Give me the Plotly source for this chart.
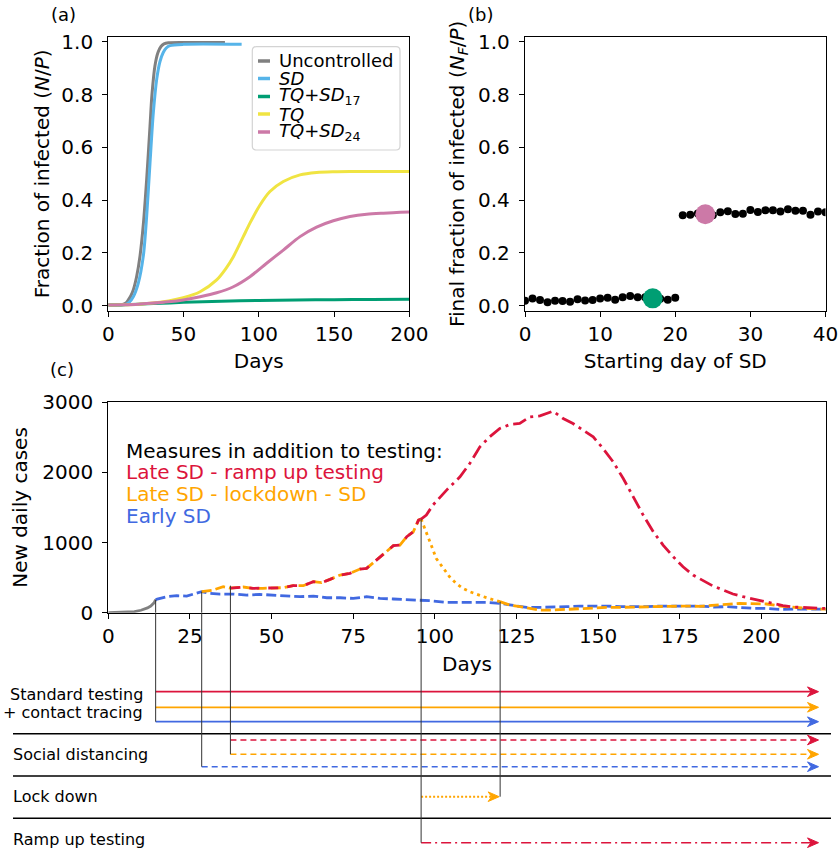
import plotly.graph_objects as go

W, H = 840, 851
FONT = "DejaVu Sans"


def px_x(p):
    return p / W


def px_y(p):
    return 1 - p / H


# ---------------- DATA ----------------
# Panel (a): cumulative fraction of infected N/P
unc_days = [0, 5, 9, 12, 13.3, 15, 16.6, 18.8, 21.1, 23.3, 25.5, 27.7, 29, 31, 33, 35, 37, 40, 50, 77.5]
unc_vals = [0.003, 0.003, 0.004, 0.012, 0.022, 0.038, 0.060, 0.110, 0.19, 0.31, 0.48, 0.68, 0.80, 0.91, 0.96, 0.983, 0.993, 0.997, 0.998, 0.998]

sd_days = [0, 8, 11.1, 14, 16.6, 19.9, 23.3, 25.5, 27.7, 29.9, 32.2, 34.3, 36.5, 38.5, 41, 50, 88.6]
sd_vals = [0.003, 0.003, 0.004, 0.014, 0.034, 0.085, 0.19, 0.34, 0.54, 0.73, 0.86, 0.925, 0.96, 0.977, 0.986, 0.991, 0.991]

tqsd17_days = [0, 10, 20, 30, 50, 75, 100, 125, 150, 175, 200]
tqsd17_vals = [0.003, 0.004, 0.006, 0.008, 0.013, 0.017, 0.020, 0.022, 0.023, 0.024, 0.025]

tq_days = [0, 10, 20, 27.7, 40, 49.8, 61, 72, 78, 83.1, 89.7, 94.1, 100.8, 107.4, 116.3, 127.4, 138.4, 150, 160.6, 200]
tq_vals = [0.003, 0.004, 0.006, 0.009, 0.018, 0.030, 0.053, 0.098, 0.14, 0.186, 0.262, 0.313, 0.382, 0.433, 0.471, 0.496, 0.505, 0.508, 0.509, 0.509]

tqsd24_days = [0, 10, 20, 27.7, 40, 49.8, 61, 72, 83.1, 94.1, 105.2, 116.3, 127.4, 138.4, 149.5, 160.6, 171.7, 182.8, 200]
tqsd24_vals = [0.003, 0.004, 0.006, 0.009, 0.015, 0.022, 0.034, 0.049, 0.072, 0.110, 0.161, 0.211, 0.262, 0.298, 0.322, 0.338, 0.347, 0.351, 0.355]

legend_labels = ["Uncontrolled", "<i>SD</i>", "<i>TQ</i>+<i>SD</i><sub>17</sub>", "<i>TQ</i>", "<i>TQ</i>+<i>SD</i><sub>24</sub>"]
a_colors = ["#808080", "#56B4E9", "#009E73", "#F0E442", "#CC79A7"]

# Panel (b): final fraction vs starting day of SD
b_days = list(range(41))
b_vals = [0.019, 0.027, 0.022, 0.013, 0.019, 0.018, 0.015, 0.025, 0.020, 0.022, 0.027,
          0.030, 0.023, 0.032, 0.037, 0.032, 0.032, 0.028, 0.026, 0.023, 0.030,
          0.343, 0.345, 0.350, 0.347, 0.343, 0.354, 0.358, 0.348, 0.349, 0.363,
          0.355, 0.362, 0.362, 0.357, 0.366, 0.360, 0.360, 0.345, 0.357, 0.354]
b_highlight_days = [17, 24]
b_highlight_colors = ["#009E73", "#CC79A7"]

# Panel (c): new daily cases
c_gray_days = [0, 3, 6, 8, 10, 11, 12, 13, 14, 14.5]
c_gray_vals = [0, 3, 8, 15, 35, 50, 68, 95, 140, 185]

early_days = [14.5, 15, 17.9, 21, 24, 26, 28, 28.6, 31.1, 34.2, 38.3, 42.4, 46.4, 50.5,
              54.6, 58.7, 62.8, 66.9, 71, 75, 79.1, 83.2, 87.3, 91.4, 95.5, 98.5,
              103.6, 107.7, 111.7, 115.8, 119.9, 124, 128.1, 132.2, 136.2, 140.3,
              144.4, 148.5, 152.6, 156.7, 160.7, 164.8, 168.9, 173, 177.1, 181.2,
              185.3, 189.3, 193.4, 197.5, 201.6, 205.7, 209.8, 213.8, 217.9, 220]
early_vals = [185, 195, 228, 242, 237, 261, 290, 300, 275, 266, 266, 251, 261, 251,
              237, 228, 237, 213, 213, 204, 228, 204, 195, 185, 180, 171,
              147, 147, 147, 147, 133, 100, 76, 76, 76, 86,
              95, 100, 95, 86, 81, 86, 95, 100, 95, 95,
              81, 86, 71, 62, 62, 48, 52, 48, 52, 50]

late_days = [28.6, 29.6, 32.1, 35.2, 37.4, 41.3, 44.3, 47.3, 50.5, 53.6, 56.6, 59.7, 62.8,
             65.3, 67.9, 71, 74, 77.1, 79.1, 82.2, 85.2, 87.3, 89.3, 91.4, 93.4, 95, 95.8]
late_vals = [300, 309, 323, 371, 350, 366, 347, 347, 357, 357, 385, 385, 442,
             428, 475, 537, 561, 623, 632, 751, 869, 955, 964, 1083, 1154, 1320, 1335]

ramp_days = [95.8, 97.4, 99.4, 103.6, 107.7, 110.7, 113.8, 116.8, 119.9, 123,
             126, 129.1, 132.2, 135.2, 136.2, 139.3, 142.3, 145.4, 148.5, 151.5,
             154.6, 157.7, 160.7, 163.8, 166.9, 169.9, 173, 176, 179.1, 182.2,
             185.2, 188.3, 191.3, 194.4, 197.4, 200.5, 203.6, 206.6, 209.7, 212.8,
             215.8, 218.9, 220]
ramp_vals = [1335, 1392, 1534, 1748, 1937, 2128, 2365, 2507, 2627, 2684,
             2698, 2792, 2806, 2855, 2873, 2769, 2698, 2602, 2507, 2342,
             2151, 1914, 1652, 1392, 1154, 964, 798, 655, 537, 452,
             380, 323, 266, 228, 195, 171, 133, 100, 81, 71,
             62, 62, 60]

lock_days = [95.8, 97.4, 98.9, 100.4, 102.5, 104.5, 106.5, 108.6, 110.7, 112.7, 115.8, 119.9]
lock_vals = [1335, 1154, 964, 775, 632, 513, 419, 347, 299, 262, 214, 157]

post_days = [119.9, 123, 126, 129.1, 132.2, 136.2, 140.3, 144.4, 148.5, 152.6,
             156.7, 160.7, 164.8, 168.9, 173, 177.1, 181.2, 185.3, 189.3, 193.4,
             197.5, 201.6, 205.7, 209.8, 213.8, 217.9, 220]
post_vals = [157, 109, 86, 62, 38, 38, 48, 62, 76, 76,
             76, 81, 81, 86, 90, 95, 90, 100, 119, 133,
             124, 124, 95, 76, 62, 52, 50]

# event days (start of measures) and the curve value where each is marked
ev_days = [14.5, 28.6, 37.4, 95.8, 120.0]
ev_vals = [185, 300, 385, 1335, 157]
end_day = 217.5

RED, ORANGE, BLUE = "#DC143C", "#FFA500", "#4169E1"
c_text = ["Measures in addition to testing:", "Late SD - ramp up testing", "Late SD - lockdown - SD", "Early SD"]
c_text_colors = ["black", RED, ORANGE, BLUE]

timeline_labels = ["Standard testing", "+ contact tracing", "Social distancing", "Lock down", "Ramp up testing"]

# ---------------- FIGURE ----------------
fig = go.Figure()

a_series = [(unc_days, unc_vals), (sd_days, sd_vals), (tqsd17_days, tqsd17_vals),
            (tq_days, tq_vals), (tqsd24_days, tqsd24_vals)]
for (dx, dy), col, lab in zip(a_series, a_colors, legend_labels):
    fig.add_trace(go.Scatter(x=dx, y=dy, mode="lines", line=dict(color=col, width=3, shape="spline", smoothing=0.8),
                             name=lab, xaxis="x", yaxis="y", showlegend=False))

fig.add_trace(go.Scatter(x=b_days, y=b_vals, mode="markers", marker=dict(color="black", size=8),
                         xaxis="x2", yaxis="y2", showlegend=False))
fig.add_trace(go.Scatter(x=b_highlight_days, y=[b_vals[d] for d in b_highlight_days], mode="markers",
                         marker=dict(color=b_highlight_colors, size=20),
                         xaxis="x2", yaxis="y2", showlegend=False))

DASH = "10px,4px"
fig.add_trace(go.Scatter(x=c_gray_days, y=c_gray_vals, mode="lines", line=dict(color="#808080", width=2.8),
                         xaxis="x3", yaxis="y3", showlegend=False))
fig.add_trace(go.Scatter(x=early_days, y=early_vals, mode="lines", line=dict(color=BLUE, width=2.8, dash=DASH),
                         xaxis="x3", yaxis="y3", showlegend=False))
fig.add_trace(go.Scatter(x=late_days, y=late_vals, mode="lines", line=dict(color=ORANGE, width=2.8, dash=DASH),
                         xaxis="x3", yaxis="y3", showlegend=False))
fig.add_trace(go.Scatter(x=late_days[4:], y=late_vals[4:], mode="lines", line=dict(color=RED, width=2.8, dash="10px,9px"),
                         xaxis="x3", yaxis="y3", showlegend=False))
fig.add_trace(go.Scatter(x=lock_days, y=lock_vals, mode="lines", line=dict(color=ORANGE, width=2.8, dash="3px,4px"),
                         xaxis="x3", yaxis="y3", showlegend=False))
fig.add_trace(go.Scatter(x=post_days, y=post_vals, mode="lines", line=dict(color=ORANGE, width=2.8, dash=DASH),
                         xaxis="x3", yaxis="y3", showlegend=False))
fig.add_trace(go.Scatter(x=ramp_days, y=ramp_vals, mode="lines", line=dict(color=RED, width=2.8, dash="14px,5px,3px,5px"),
                         xaxis="x3", yaxis="y3", showlegend=False))

# ---------------- AXES ----------------
tickfont = dict(family=FONT, size=20, color="black")
titlefont = dict(family=FONT, size=20, color="black")
common = dict(showline=True, mirror=True, linecolor="black", linewidth=1.3, ticks="outside",
              ticklen=5, tickwidth=1.3, tickcolor="black", showgrid=False, zeroline=False,
              tickfont=tickfont, automargin=False)

ab_ydom = [px_y(311), px_y(36.7)]
fig.update_layout(
    xaxis=dict(domain=[px_x(108.3), px_x(409.3)], range=[0, 200], tickvals=[0, 50, 100, 150, 200],
               anchor="y", ticklabelstandoff=0, title=dict(text="Days", font=titlefont, standoff=8), **common),
    yaxis=dict(domain=ab_ydom, range=[-0.02, 1.02], tickvals=[0, 0.2, 0.4, 0.6, 0.8, 1.0], tickformat=".1f",
               anchor="x", ticklabelstandoff=5,
               title=dict(text="Fraction of infected (<i>N</i>/<i>P</i>)", font=titlefont, standoff=6), **common),
    xaxis2=dict(domain=[px_x(525), px_x(825.5)], range=[0, 40], tickvals=[0, 10, 20, 30, 40],
                anchor="y2", ticklabelstandoff=0, title=dict(text="Starting day of SD", font=titlefont, standoff=8), **common),
    yaxis2=dict(domain=ab_ydom, range=[-0.02, 1.02], tickvals=[0, 0.2, 0.4, 0.6, 0.8, 1.0], tickformat=".1f",
                anchor="x2", ticklabelstandoff=5,
                title=dict(text="Final fraction of infected (<i>N<sub>F</sub></i>/<i>P</i>)", font=titlefont, standoff=8), **common),
    xaxis3=dict(domain=[px_x(108.3), px_x(825.7)], range=[0, 219.7], tickvals=[0, 25, 50, 75, 100, 125, 150, 175, 200],
                anchor="y3", ticklabelstandoff=0, title=dict(text="Days", font=titlefont, standoff=9.5), **common),
    yaxis3=dict(domain=[px_y(612.7), px_y(402.3)], range=[0, 3000], tickvals=[0, 1000, 2000, 3000],
                anchor="x3", ticklabelstandoff=5,
                title=dict(text="New daily cases", font=titlefont, standoff=9), **common),
)

shapes = []
annotations = []

# ---- legend of panel (a), drawn by hand ----
lx0, lx1, ly0, ly1, r = 252.3, 400.0, 46.7, 150.0, 4
path_pts = (f"M{px_x(lx0 + r)},{px_y(ly0)} L{px_x(lx1 - r)},{px_y(ly0)} Q{px_x(lx1)},{px_y(ly0)} {px_x(lx1)},{px_y(ly0 + r)} "
            f"L{px_x(lx1)},{px_y(ly1 - r)} Q{px_x(lx1)},{px_y(ly1)} {px_x(lx1 - r)},{px_y(ly1)} "
            f"L{px_x(lx0 + r)},{px_y(ly1)} Q{px_x(lx0)},{px_y(ly1)} {px_x(lx0)},{px_y(ly1 - r)} "
            f"L{px_x(lx0)},{px_y(ly0 + r)} Q{px_x(lx0)},{px_y(ly0)} {px_x(lx0 + r)},{px_y(ly0)} Z")
shapes.append(dict(type="path", xref="paper", yref="paper", path=path_pts,
                   fillcolor="rgba(255,255,255,0.8)", line=dict(color="#d3d3d3", width=1.2), layer="above"))
leg_rows = [61, 78.5, 96.5, 114, 132]
for lab, col, ry in zip(legend_labels, a_colors, leg_rows):
    shapes.append(dict(type="line", xref="paper", yref="paper", x0=px_x(258), x1=px_x(270),
                       y0=px_y(ry), y1=px_y(ry), line=dict(color=col, width=3.5), layer="above"))
    annotations.append(dict(xref="paper", yref="paper", x=px_x(277), y=px_y(ry), xanchor="left", yanchor="middle",
                            text=lab, showarrow=False, font=dict(family=FONT, size=18, color="black")))

# ---- panel letters ----
for txt, cx, cy in [("(a)", 63, 14), ("(b)", 480, 14), ("(c)", 62, 370)]:
    annotations.append(dict(xref="paper", yref="paper", x=px_x(cx), y=px_y(cy), xanchor="center", yanchor="middle",
                            text=txt, showarrow=False, font=dict(family=FONT, size=18, color="black")))

# ---- panel (c) text block ----
for txt, col, cy in zip(c_text, c_text_colors, [451, 472.5, 494, 515.5]):
    annotations.append(dict(xref="paper", yref="paper", x=px_x(124), y=px_y(cy), xanchor="left", yanchor="middle",
                            text=txt, showarrow=False, font=dict(family=FONT, size=20, color=col)))

# ---- timeline below panel (c) ----
row_std = [691.7, 707.3, 721.7]
row_sd = [740.0, 754.3, 766.7]
row_lock = 796.7
row_ramp = 842.7
separators = [733.7, 776.0, 818.3]

# arrowhead geometry (in px), converted to days through the panel (c) x scale
PX_PER_DAY = (825.7 - 108.3) / 219.7
HEAD_LEN, HEAD_NOTCH, HEAD_HALF = 11.0, 3.5, 4.8


def tl_line(d0, d1, ypx, color, dash, width, arrow=True):
    shapes.append(dict(type="line", xref="x3", yref="paper", x0=d0, x1=d1 - 2 / PX_PER_DAY, y0=px_y(ypx), y1=px_y(ypx),
                       line=dict(color=color, dash=dash, width=width), layer="above"))
    if arrow:
        back = d1 - HEAD_LEN / PX_PER_DAY
        notch = d1 - (HEAD_LEN - HEAD_NOTCH) / PX_PER_DAY
        path = (f"M{d1},{px_y(ypx)} L{back},{px_y(ypx - HEAD_HALF)} L{notch},{px_y(ypx)} "
                f"L{back},{px_y(ypx + HEAD_HALF)} Z")
        shapes.append(dict(type="path", xref="x3", yref="paper", path=path, fillcolor=color,
                           line=dict(color=color, width=1), layer="above"))


cols3 = [RED, ORANGE, BLUE]
for col, ry in zip(cols3, row_std):
    tl_line(ev_days[0], end_day, ry, col, "solid", 1.8)
tl_line(ev_days[2], end_day, row_sd[0], RED, "6px,4px", 1.6)
tl_line(ev_days[2], end_day, row_sd[1], ORANGE, "6px,4px", 1.6)
tl_line(ev_days[1], end_day, row_sd[2], BLUE, "6px,4px", 1.6)
tl_line(ev_days[3], ev_days[4] - 0.3, row_lock, ORANGE, "2px,2px", 2)
tl_line(ev_days[3], end_day, row_ramp, RED, "10px,4px,2px,4px", 1.6)

for sy in separators:
    shapes.append(dict(type="line", xref="paper", yref="paper", x0=px_x(13), x1=px_x(831),
                       y0=px_y(sy), y1=px_y(sy), line=dict(color="black", width=1.6), layer="above"))

# connectors from the curves to the timeline rows
ev_rows = [row_std[2], row_sd[2], row_sd[1], row_ramp, row_lock]
for d, v, ry in zip(ev_days, ev_vals, ev_rows):
    shapes.append(dict(type="line", xref="x3", yref="y3", x0=d, x1=d, y0=v, y1=0,
                       line=dict(color="#333333", width=1), layer="above"))
    shapes.append(dict(type="line", xref="x3", yref="paper", x0=d, x1=d, y0=px_y(612.7), y1=px_y(ry),
                       line=dict(color="#333333", width=1), layer="above"))

tl_font = dict(family=FONT, size=16, color="black")
annotations.append(dict(xref="paper", yref="paper", x=px_x(145), y=px_y(694.3), xanchor="right", yanchor="middle",
                        text=timeline_labels[0], showarrow=False, font=tl_font))
annotations.append(dict(xref="paper", yref="paper", x=px_x(145), y=px_y(712.7), xanchor="right", yanchor="middle",
                        text=timeline_labels[1], showarrow=False, font=tl_font))
for txt, cy in zip(timeline_labels[2:], [754.3, 796.7, 839.3]):
    annotations.append(dict(xref="paper", yref="paper", x=px_x(10.5), y=px_y(cy), xanchor="left", yanchor="middle",
                            text=txt, showarrow=False, font=tl_font))

fig.update_layout(
    width=W, height=H, margin=dict(l=0, r=0, t=0, b=0),
    paper_bgcolor="white", plot_bgcolor="white",
    font=dict(family=FONT, color="black"),
    showlegend=False, shapes=shapes, annotations=annotations,
)

fig.write_html("out.html", config={"displayModeBar": False},
               post_script="document.body.style.margin='0px';document.body.style.overflow='hidden';")
